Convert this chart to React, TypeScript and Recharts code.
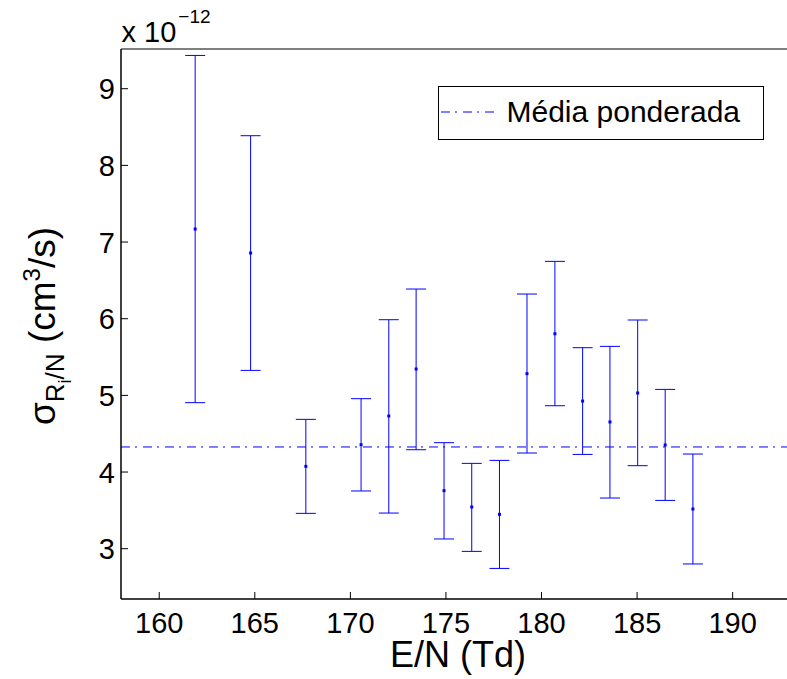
import React from 'react';
import { ComposedChart, Scatter, ErrorBar, XAxis, YAxis, ReferenceLine, Legend } from 'recharts';

// E/N (Td)
const energies = [161.88, 164.78, 167.67, 170.56, 172.01, 173.44, 174.9, 176.35, 177.8, 179.24, 180.7, 182.15, 183.58, 185.03, 186.47, 187.92];
// sigma (x 1e-12 cm^3/s)
const rates = [7.17, 6.857, 4.074, 4.357, 4.731, 5.344, 3.757, 3.544, 3.448, 5.283, 5.804, 4.926, 4.653, 5.031, 4.353, 3.518];
const lowerBounds = [4.905, 5.326, 3.461, 3.753, 3.465, 4.291, 3.127, 2.965, 2.743, 4.248, 4.865, 4.23, 3.661, 4.083, 3.63, 2.801];
const upperBounds = [9.434, 8.387, 4.687, 4.957, 5.987, 6.387, 4.383, 4.113, 4.152, 6.322, 6.748, 5.622, 5.639, 5.983, 5.078, 4.235];
const weightedMean = 4.327;

const xTicks = [160, 165, 170, 175, 180, 185, 190];
const yTicks = [3, 4, 5, 6, 7, 8, 9];
const xDomain = [158, 193];
const yDomain = [2.344, 9.518];
const legendLabel = 'Média ponderada';
const xLabel = 'E/N (Td)';
const exponentLabel = '−12';

const data = energies.map((x, i) => ({
  x,
  y: rates[i],
  err: [rates[i] - lowerBounds[i], upperBounds[i] - rates[i]],
}));

const FONT = '"Liberation Sans", Arial, Helvetica, sans-serif';
const BLUE = '#0000ff';

const BottomTick = (props: any) => {
  const { x, y, payload } = props;
  return (
    <g>
      <line x1={x} y1={y} x2={x} y2={y - 7} stroke="#000" strokeWidth={1} />
      <text x={x} y={y + 34} textAnchor="middle" fontSize={29} fontFamily={FONT} fill="#000">
        {payload.value}
      </text>
    </g>
  );
};

const TopTick = (props: any) => {
  const { x, y } = props;
  return <line x1={x} y1={y} x2={x} y2={y + 7} stroke="#000" strokeWidth={1} />;
};

const LeftTick = (props: any) => {
  const { x, y, payload } = props;
  return (
    <g>
      <line x1={x} y1={y} x2={x + 7} y2={y} stroke="#000" strokeWidth={1} />
      <text x={x - 6} y={y + 10.5} textAnchor="end" fontSize={29} fontFamily={FONT} fill="#000">
        {payload.value}
      </text>
    </g>
  );
};

const Dot = (props: any) => {
  const { cx, cy } = props;
  return <rect x={cx - 1.5} y={cy - 1.5} width={3} height={3} fill={BLUE} />;
};

const LegendBox = () => (
  <svg width={326} height={54} style={{ display: 'block' }}>
    <rect x={0.5} y={0.5} width={325} height={53} fill="#fff" stroke="#000" strokeWidth={1} />
    <line x1={3} y1={26} x2={56} y2={26} stroke={BLUE} strokeWidth={1} strokeDasharray="9 5 2 6" />
    <text x={68.5} y={35.7} fontSize={30} fontFamily={FONT} fill="#000">
      {legendLabel}
    </text>
  </svg>
);

export default function App() {
  return (
    <div style={{ position: 'absolute', left: 0, top: 0, width: 787, height: 679, overflow: 'hidden', background: '#fff' }}>
      <ComposedChart width={790} height={679} data={data} margin={{ top: 0, right: 0, bottom: 0, left: 0 }}>
        <XAxis
          xAxisId="bottom"
          dataKey="x"
          type="number"
          orientation="bottom"
          domain={xDomain}
          allowDataOverflow
          ticks={xTicks}
          interval={0}
          height={80}
          tickSize={0}
          tickMargin={0}
          tickLine={false}
          axisLine={{ stroke: '#000', strokeWidth: 1.5 }}
          tick={BottomTick}
          label={{
            content: () => (
              <text x={458} y={666.5} textAnchor="middle" fontSize={36} fontFamily={FONT} fill="#000">
                {xLabel}
              </text>
            ),
          }}
        />
        <XAxis
          xAxisId="top"
          type="number"
          orientation="top"
          domain={xDomain}
          allowDataOverflow
          ticks={xTicks}
          interval={0}
          height={49}
          tickSize={0}
          tickMargin={0}
          tickLine={false}
          axisLine={{ stroke: '#000', strokeWidth: 1 }}
          tick={TopTick}
          label={{
            content: () => (
              <text x={121.5} y={41.7} fontSize={29} fontFamily={FONT} fill="#000">
                x 10
                <tspan fontSize={19} dy={-19} dx={2}>
                  {exponentLabel}
                </tspan>
              </text>
            ),
          }}
        />
        <YAxis
          yAxisId="left"
          type="number"
          domain={yDomain}
          allowDataOverflow
          ticks={yTicks}
          interval={0}
          width={121}
          tickSize={0}
          tickMargin={0}
          tickLine={false}
          axisLine={{ stroke: '#000', strokeWidth: 1.5 }}
          tick={LeftTick}
          label={{
            content: () => (
              <text
                x={55}
                y={326}
                transform="rotate(-90, 55, 326)"
                textAnchor="middle"
                fontSize={37}
                fontFamily={FONT}
                fill="#000"
              >
                σ
                <tspan fontSize={26} dy={9}>R</tspan>
                <tspan fontSize={18} dy={7}>i</tspan>
                <tspan fontSize={26} dy={-7}>/N</tspan>
                <tspan fontSize={37} dy={-9}> (cm</tspan>
                <tspan fontSize={24} dy={-15}>3</tspan>
                <tspan fontSize={37} dy={15}>/s)</tspan>
              </text>
            ),
          }}
        />
        <ReferenceLine
          xAxisId="bottom"
          yAxisId="left"
          y={weightedMean}
          stroke={BLUE}
          strokeWidth={1}
          strokeDasharray="9 5 2 6"
          ifOverflow="hidden"
        />
        <Scatter
          xAxisId="bottom"
          yAxisId="left"
          dataKey="y"
          data={data}
          shape={Dot}
          isAnimationActive={false}
          legendType="none"
        >
          <ErrorBar dataKey="err" direction="y" width={10} stroke={BLUE} strokeWidth={1} isAnimationActive={false} />
        </Scatter>
        <Legend
          layout="vertical"
          align="center"
          verticalAlign="middle"
          content={LegendBox}
          wrapperStyle={{ position: 'absolute', left: 438, top: 86, width: 326, height: 54, margin: 0 }}
        />
      </ComposedChart>
    </div>
  );
}
